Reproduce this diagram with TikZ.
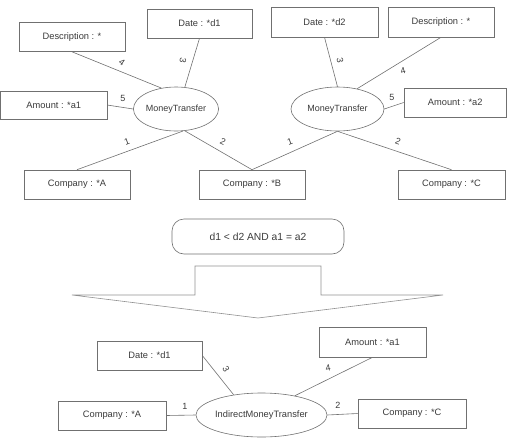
\documentclass[tikz,border=0pt]{standalone}
\usepackage{fontspec}
\setmainfont{Liberation Sans}
\usetikzlibrary{shapes.geometric}
\definecolor{txt}{HTML}{3A3A3A}
\definecolor{ln}{HTML}{707070}
\definecolor{arr}{HTML}{909090}
\begin{document}
\begin{tikzpicture}[x=1pt,y=-1pt,
  box/.style={draw=ln, line width=0.6pt, rectangle, minimum width=106pt, minimum height=29pt, inner sep=0pt, text=txt, font=\fontsize{9.3}{10}\selectfont},
  ell/.style={draw=ln, line width=0.6pt, ellipse, inner sep=0pt, text=txt, font=\fontsize{9}{10}\selectfont},
  con/.style={draw=ln, line width=0.6pt},
  lbl/.style={text=txt, inner sep=0pt, font=\fontsize{9}{10}\selectfont}]
\useasboundingbox (0,0) rectangle (507,440);
% top left group
\node[box] (desc1) at (72,37) {Description : *};
\node[box, minimum width=105pt] (date1) at (199.5,23.5) {Date : *d1};
\node[box, minimum width=106pt, minimum height=28pt] (amt1) at (53.8,105) {Amount : *a1};
\node[ell, minimum width=76pt, minimum height=44pt] (mt1) at (176,109) {MoneyTransfer};
\node[box] (compA) at (77,184.5) {Company : *A};
\node[box] (compB) at (252,184.5) {Company : *B};
% top right group
\node[box, minimum width=107pt, minimum height=30pt] (date2) at (324.5,22) {Date : *d2};
\node[box, minimum height=30pt] (desc2) at (441,22) {Description : *};
\node[ell, minimum width=93pt, minimum height=44pt] (mt2) at (337.5,109) {MoneyTransfer};
\node[box, minimum width=102.5pt] (amt2) at (455.25,102.5) {Amount : *a2};
\node[box, minimum width=107pt] (compC) at (451.5,184.5) {Company : *C};
% connectors top left
\draw[con] (desc1.south) -- (mt1.125);
\draw[con] (date1.south) -- (mt1.68);
\draw[con] (amt1.east) -- (mt1.west);
\draw[con] (mt1.-72) -- (compA.north);
\draw[con] (mt1.-68) -- (compB.north);
% connectors top right
\draw[con] (date2.south) -- (mt2.north);
\draw[con] (desc2.south) -- (mt2.46);
\draw[con] (amt2.west) -- (mt2.east);
\draw[con] (mt2.south) -- (compB.north);
\draw[con] (mt2.south) -- (compC.north);
% labels top
\node[lbl, rotate=-35] (l4a) at (122,62) {4};
\node[lbl, rotate=-100] (l3a) at (183,60) {3};
\node[lbl] (l5a) at (123,98) {5};
\node[lbl, rotate=20] (l1a) at (127,142) {1};
\node[lbl, rotate=-25] (l2a) at (223,142) {2};
\node[lbl, rotate=-80] (l3b) at (340,60) {3};
\node[lbl, rotate=15] (l4b) at (403,71) {4};
\node[lbl] (l5b) at (392,97) {5};
\node[lbl, rotate=20] (l1b) at (290,142) {1};
\node[lbl, rotate=-20] (l2b) at (398,141) {2};
% condition
\node[draw=ln, line width=0.6pt, rounded corners=12pt, minimum width=172pt, minimum height=35pt, inner sep=0pt, text=txt, font=\fontsize{10.3}{12}\selectfont] (cond) at (258,236.5) {d1 < d2 AND a1 = a2};
% big arrow
\coordinate (p1) at (195,266);
\coordinate (p2) at (321,266);
\coordinate (p3) at (321,295);
\coordinate (p4) at (443,295);
\coordinate (p5) at (258,318);
\coordinate (p6) at (72,295);
\coordinate (p7) at (195,295);
\draw[draw=arr, line width=0.6pt, line join=miter] (p1) -- (p2) -- (p3) -- (p4) -- (p5) -- (p6) -- (p7) -- cycle;
% bottom group
\node[box, minimum width=105pt] (dateB) at (149.5,355.5) {Date : *d1};
\node[box, minimum width=107pt, minimum height=30pt] (amtB) at (372.5,342) {Amount : *a1};
\node[box, minimum width=108pt] (compA2) at (112,415.5) {Company : *A};
\node[box, minimum width=108pt] (compC2) at (412,413.5) {Company : *C};
\node[ell, minimum width=115pt, minimum height=44pt, font=\fontsize{9.3}{10}\selectfont] (imt) at (261.5,415) {IndirectMoneyTransfer};
\draw[con] (dateB.east) -- (imt.144);
\draw[con] (amtB.south) -- (imt.30);
\draw[con] (compA2.east) -- (imt.west);
\draw[con] (imt.east) -- (compC2.west);
\node[lbl, rotate=-60] (l3c) at (226,369) {3};
\node[lbl, rotate=10] (l4c) at (328,368) {4};
\node[lbl] (l1c) at (185,406) {1};
\node[lbl] (l2c) at (338,405) {2};
\end{tikzpicture}
\end{document}
